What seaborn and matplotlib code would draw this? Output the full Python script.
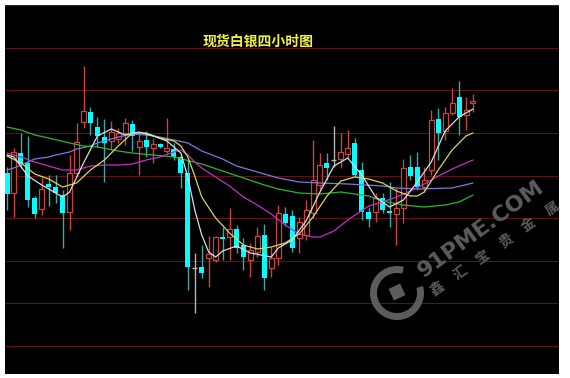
import numpy as np
import pandas as pd
import seaborn as sns
import matplotlib
matplotlib.use("Agg")
import matplotlib.pyplot as plt
from matplotlib.patches import Wedge, RegularPolygon

# ---------------- data (chart units) ----------------
OPEN = [207, 187, 227, 217, 182, 171, 196, 193, 185, 168,
        207, 258, 268, 253, 243, 239, 241, 247, 256, 233,
        240, 232, 236, 229, 231, 223, 207, 112, 113, 122,
        120, 143, 143, 151, 135, 120, 128, 145, 112, 122,
        166, 164, 142, 145, 167, 195, 217, 220, 221, 226,
        237, 210, 168, 168, 182, 169, 166, 172, 213, 213,
        193, 210, 261, 249, 267, 283, 265, 277]
CLOSE = [186, 228, 216, 180, 166, 191, 193, 187, 167, 207,
         238, 269, 257, 244, 237, 248, 247, 257, 244, 239,
         233, 236, 233, 232, 223, 207, 113, 112, 107, 126,
         143, 141, 151, 132, 123, 130, 144, 102, 122, 167,
         157, 132, 158, 170, 200, 215, 212, 220, 228, 232,
         205, 168, 161, 182, 170, 167, 172, 212, 204, 193,
         200, 260, 247, 267, 277, 263, 270, 279]
HIGH = [213, 232, 247, 244, 184, 203, 205, 205, 190, 225,
        257, 314, 273, 263, 261, 259, 252, 262, 260, 248,
        249, 242, 237, 262, 237, 225, 220, 127, 135, 144,
        144, 153, 172, 155, 142, 137, 153, 156, 133, 175,
        173, 170, 163, 180, 240, 227, 227, 254, 247, 250,
        242, 218, 173, 187, 187, 198, 192, 221, 225, 228,
        213, 270, 272, 273, 292, 299, 283, 286]
LOW = [170, 163, 212, 173, 162, 165, 174, 177, 132, 150,
       204, 252, 245, 233, 198, 230, 237, 235, 229, 205,
       223, 217, 232, 227, 220, 192, 90, 67, 102, 93,
       118, 120, 120, 127, 110, 103, 123, 90, 103, 115,
       154, 128, 127, 140, 162, 190, 200, 213, 212, 222,
       203, 160, 153, 158, 167, 153, 135, 157, 200, 190,
       188, 205, 220, 240, 265, 245, 250, 268]

MA_WHITE_X = [0, 1, 3, 5, 7, 8, 9, 11, 13, 15, 17, 19, 21, 23, 25, 26, 27, 28, 29, 30,
              31, 33, 35, 38, 39, 41, 43, 45, 47, 49, 51, 53, 55, 57, 59, 61, 63, 65, 67]
MA_WHITE = [225, 223, 204, 195, 187, 183, 188, 217, 244, 251, 245, 248, 244, 239, 227, 203, 170, 145, 128, 123,
            129, 134, 127, 123, 132, 140, 159, 188, 214, 222, 205, 183, 173, 180, 198, 218, 249, 263, 271]

MA_YELLOW_X = [0, 2, 4, 6, 8, 10, 12, 14, 16, 18, 20, 22, 24, 25, 26, 27, 28, 30, 32, 34,
               36, 38, 40, 42, 44, 46, 48, 50, 52, 54, 56, 58, 59, 60, 62, 64, 66, 67]
MA_YELLOW = [224, 217, 206, 201, 193, 197, 210, 220, 234, 247, 247, 242, 239, 234, 223, 204, 183, 162, 147, 135,
             131, 133, 137, 146, 163, 184, 199, 203, 201, 197, 189, 184, 184, 188, 210, 230, 244, 247]

MA_MAGENTA_X = [0, 2, 4, 6, 8, 10, 12, 14, 16, 18, 20, 22, 24, 25, 26, 27, 28, 30, 32, 34,
                36, 38, 40, 42, 44, 45, 47, 49, 52, 54, 56, 58, 60, 62, 64, 67]
MA_MAGENTA = [227, 223, 218, 214, 210, 210, 214, 215, 215, 216, 220, 223, 228, 230, 225, 218, 212, 203, 194, 183,
              175, 166, 155, 146, 143, 143, 149, 160, 174, 178, 183, 189, 196, 204, 211, 220]

MA_GREEN_X = [0, 2, 4, 6, 9, 11, 13, 16, 18, 21, 24, 28, 31, 34, 37, 39, 42, 45, 48, 52,
              54, 57, 60, 63, 65, 67]
MA_GREEN = [253, 250, 245, 242, 237, 234, 233, 229, 227, 225, 223, 216, 209, 202, 195, 191, 187, 186, 188, 184,
            179, 175, 173, 175, 178, 185]

MA_BLUE_X = [0, 1, 3, 4, 6, 7, 9, 10, 12, 13, 16, 18, 20, 22, 24, 26, 28, 31, 33, 36,
             39, 42, 45, 49, 54, 56, 59, 64, 67]
MA_BLUE = [210, 212, 218, 221, 223, 225, 228, 231, 234, 237, 243, 246, 245, 243, 240, 237, 229, 221, 214, 208,
           202, 198, 197, 196, 194, 192, 191, 192, 197]

TITLE = "现货白银四小时图"
WATERMARK_EN = "91PME.COM"
WATERMARK_CN = "鑫汇宝贵金属"

# ---------------- style ----------------
sns.set_theme(style="dark", rc={"axes.facecolor": "black", "figure.facecolor": "white"})
plt.rcParams["font.family"] = ["Noto Sans CJK SC", "DejaVu Sans"]

RED = "#c8463c"
CYAN = "#00ffff"
CYAN_WICK = "#3aa8a8"
GRAY = "#b4b4b4"
GRID_COLOR = "#5e1212"

fig = plt.figure(figsize=(5.7, 3.78), dpi=100)
ax = fig.add_axes([5 / 570, 4 / 378, 554 / 570, 369 / 378])
ax.set_facecolor("black")

df = pd.DataFrame({"open": OPEN, "high": HIGH, "low": LOW, "close": CLOSE})
df["i"] = np.arange(len(df))
up = df["close"] > df["open"]
down = df["close"] < df["open"]
flat = df["close"] == df["open"]

# grid lines
y_top, y_bot = 375.0, 6.0
step = 42.625
for k in range(9):
    ax.axhline(y_top - k * step, color=GRID_COLOR, lw=0.8, zorder=1)

# wicks
wick_colors = np.where(up, RED, np.where(down, CYAN_WICK, GRAY))
ax.vlines(df["i"], df["low"], df["high"], colors=wick_colors, lw=1.0, zorder=2)
# bodies
W = 0.72
ax.bar(df["i"][up], (df["close"] - df["open"])[up], bottom=df["open"][up], width=W,
       facecolor="black", edgecolor=RED, lw=0.9, zorder=3)
ax.bar(df["i"][down], (df["open"] - df["close"])[down], bottom=df["close"][down], width=W,
       color=CYAN, lw=0, zorder=3)
ax.hlines(df["open"][flat], df["i"][flat] - W / 2, df["i"][flat] + W / 2, colors=GRAY, lw=1.0, zorder=3)

# moving averages
for xs, ys, col in [(MA_BLUE_X, MA_BLUE, "#7b7bd8"),
                    (MA_GREEN_X, MA_GREEN, "#2eb42e"),
                    (MA_MAGENTA_X, MA_MAGENTA, "#c42ec4"),
                    (MA_YELLOW_X, MA_YELLOW, "#d6d65a"),
                    (MA_WHITE_X, MA_WHITE, "#dcdcdc")]:
    sns.lineplot(x=xs, y=ys, ax=ax, color=col, lw=0.9, zorder=4, legend=False)

ax.set_xlim(-0.29, 79.37)
ax.set_ylim(y_bot, y_top)
ax.set_xticks([])
ax.set_yticks([])
ax.set_xlabel("")
ax.set_ylabel("")
ax.grid(False)
for s in ax.spines.values():
    s.set_visible(False)

ax.text(0.457, 0.90, TITLE, transform=ax.transAxes, ha="center", va="center",
        color="#f2f23c", fontsize=10, fontweight="bold",
        family=["Noto Sans CJK SC", "DejaVu Sans"], zorder=6)

# ---------------- watermark (pixel-coordinate overlay) ----------------
ov = fig.add_axes([0, 0, 1, 1])
ov.set_xlim(0, 570)
ov.set_ylim(378, 0)
ov.axis("off")
ov.patch.set_alpha(0)
WM = "#5c5c5c"
ov.add_patch(Wedge((397, 293), 27, -15, 285, width=7, color=WM, lw=0))
ov.add_patch(RegularPolygon((397, 292), 4, radius=9, orientation=np.deg2rad(20), color=WM, lw=0))
ov.text(481, 229, WATERMARK_EN, rotation=36, rotation_mode="anchor", ha="center", va="center",
        color=WM, fontsize=16, fontweight="bold", family=["DejaVu Sans"])
ang = np.deg2rad(35)
for j, ch in enumerate(WATERMARK_CN):
    ov.text(437 + j * 23.0, 289 - j * 23.0 * np.tan(ang),
            ch, rotation=35, rotation_mode="anchor", ha="center", va="center",
            color=WM, fontsize=10, fontweight="bold", family=["Noto Sans CJK SC"])

fig.savefig("out.png", dpi=100)
